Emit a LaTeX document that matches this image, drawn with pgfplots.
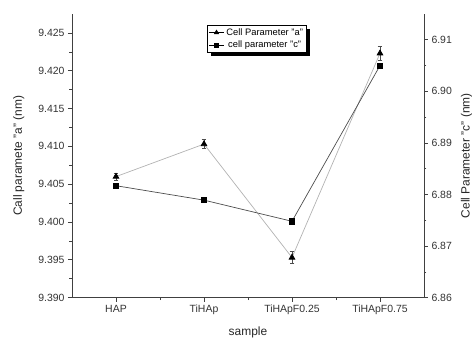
\documentclass[border=0pt]{standalone}
\usepackage{pgfplots}
\pgfplotsset{compat=1.18}
\usepackage{fontspec}
\setmainfont{Liberation Sans}
\begin{document}
\begin{tikzpicture}
\useasboundingbox (-72bp,-42.4bp) rectangle (402bp,297.6bp);
\pgfplotsset{
  common/.style={
    at={(0,0)}, anchor=south west,
    scale only axis, width=352bp, height=283.6bp,
    xmin=-0.5, xmax=3.5,
    tick align=outside,
    major tick length=4bp, minor tick length=2.5bp,
    /pgf/number format/assume math mode=true,
    tick label style={font=\fontsize{10.5}{12}\selectfont, black!80},
    label style={font=\fontsize{12}{14}\selectfont, black!85},
    axis line style={black!75, line width=0.8pt},
    every tick/.style={black!75, line width=0.6pt},
    clip=false,
  }
}
\begin{axis}[common,
  axis x line*=bottom, axis y line*=left,
  xtick={0,1,2,3}, xticklabels={HAP,TiHAp,TiHApF0.25,TiHApF0.75},
  minor x tick num=1,
  ymin=9.390, ymax=9.4275,
  ytick={9.390,9.395,9.400,9.405,9.410,9.415,9.420,9.425}, minor y tick num=1,
  yticklabel style={/pgf/number format/.cd, fixed, fixed zerofill, precision=3},
  xlabel={sample}, ylabel={Call paramete "a" (nm)},
  xlabel style={at={(axis description cs:0.5,-0.121)}, anchor=center},
  ylabel style={at={(axis description cs:-0.151,0.5)}, anchor=center},
]
\addplot[gray!60, line width=0.7pt, mark=triangle*, mark size=3.3pt,
  mark options={black, fill=black},
  error bars/.cd, y dir=both, y explicit,
  error bar style={black!70, line width=0.6pt}, error mark options={rotate=90, mark size=2.5pt, black!70}]
  coordinates {
  (0,9.4060) +- (0,0.0005)
  (1,9.4103) +- (0,0.0006)
  (2,9.3953) +- (0,0.0008)
  (3,9.4223) +- (0,0.0009)
};
\end{axis}
\begin{axis}[common,
  axis x line=none, axis y line*=right,
  ymin=6.86, ymax=6.915,
  ytick={6.86,6.87,6.88,6.89,6.90,6.91}, minor y tick num=1,
  yticklabel style={/pgf/number format/.cd, fixed, fixed zerofill, precision=2},
  ylabel={Cell Parameter "c" (nm)},
  ylabel style={at={(axis description cs:1.121,0.5)}, anchor=center},
  legend style={at={(rel axis cs:0.384,0.961)}, anchor=north west,
    font=\fontsize{9.4}{11}\selectfont, draw=black, line width=0.5pt,
    inner sep=1.2pt, row sep=0pt, fill=white, name=leg},
  legend image code/.code={\draw[mark repeat=2, mark phase=2] plot coordinates {(0cm,0cm) (0.27cm,0cm) (0.54cm,0cm)};},
]
\addlegendimage{black, line width=0.5pt, mark=triangle*, mark size=2.6pt, mark options={fill=black}}
\addlegendentry{Cell Parameter "a"}
\addlegendimage{black, line width=0.5pt, mark=square*, mark size=2.1pt, mark options={fill=black}}
\addlegendentry{cell parameter "c"}
\addplot[black!70, line width=0.7pt, mark=square*, mark size=2.6pt,
  mark options={black, fill=black}, forget plot,
  error bars/.cd, y dir=both, y explicit,
  error bar style={black!70, line width=0.6pt}, error mark options={rotate=90, mark size=2.5pt, black!70}]
  coordinates {
  (0,6.8817) +- (0,0.0005)
  (1,6.8789) +- (0,0.0004)
  (2,6.8748) +- (0,0.0004)
  (3,6.9050) +- (0,0.0005)
};
\end{axis}
\fill[black] ([xshift=3.5bp,yshift=-3.5bp]leg.south west) rectangle ([xshift=3.5bp]leg.south east);
\fill[black] ([yshift=-3.5bp]leg.south east) rectangle ([xshift=3.5bp,yshift=-3.5bp]leg.north east);
\end{tikzpicture}
\end{document}
